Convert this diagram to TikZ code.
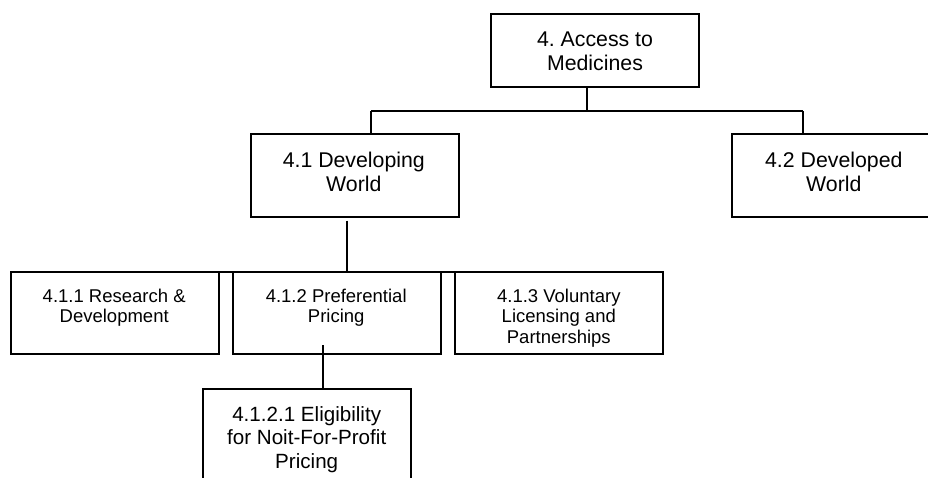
\documentclass[tikz,border=0pt]{standalone}
\usepackage{fontspec}
\setmainfont{Liberation Sans}
\frenchspacing
\begin{document}
\begin{tikzpicture}[x=1pt,y=-1pt,
  box/.style={draw, line width=1.8pt, inner sep=0pt, outer sep=0pt, anchor=north west},
  conn/.style={line width=1.8pt},
  lbl/.style={inner sep=0pt, anchor=north, align=center},
  big/.style={font=\fontsize{21.3}{24}\selectfont},
  mid/.style={font=\fontsize{20.6}{23.5}\selectfont},
  small/.style={font=\fontsize{18.5}{20.5}\selectfont}]
\useasboundingbox (0,0) rectangle (928,477);
\clip (0,0) rectangle (928,477);
% boxes
\node[box, minimum width=208pt, minimum height=72.7pt] (A) at (491,14.3) {};
\node[box, minimum width=208pt, minimum height=82.7pt] (B) at (251,134.3) {};
\node[box, minimum width=205pt, minimum height=82.4pt] (C) at (731.7,134.3) {};
\node[box, minimum width=207.7pt, minimum height=82.3pt] (D) at (11,272) {};
\node[box, minimum width=208pt, minimum height=82.3pt] (E) at (232.7,272) {};
\node[box, minimum width=207.7pt, minimum height=82.3pt] (F) at (455,272) {};
\node[box, minimum width=208pt, minimum height=100pt] (G) at (202.7,389.3) {};
% labels
\node[lbl, big] (tA) at (595,31.4) {4. Access to\\Medicines};
\node[lbl, big] (tB) at (353.8,151.6) {4.1 Developing\\World};
\node[lbl, big] (tC) at (833.8,151.6) {4.2 Developed\\World};
\node[lbl, small] (tD) at (114.2,288.5) {4.1.1 Research \&\\Development};
\node[lbl, small] (tE) at (336.2,288.5) {4.1.2 Preferential\\Pricing};
\node[lbl, small] (tF) at (558.8,288.5) {4.1.3 Voluntary\\Licensing and\\Partnerships};
\node[lbl, mid] (tG) at (306.7,406) {4.1.2.1 Eligibility\\for Noit-For-Profit\\Pricing};
% connectors
\coordinate (hA) at (587,111);
\coordinate (hL) at (371,111);
\coordinate (hR) at (803,111);
\draw[conn] (A.south -| hA) -- (hA);
\draw[conn] (hL) -- (hR);
\draw[conn] (hL) -- (hL |- B.north);
\draw[conn] (hR) -- (hR |- C.north);
\coordinate (r3) at (347,272);
\draw[conn] ([yshift=-3.5pt]B.south -| r3) -- (r3);
\draw[conn] (D.north) -- (F.north);
\coordinate (g) at (323,389.3);
\draw[conn] ([yshift=9pt]E.south -| g) -- (g);
\end{tikzpicture}
\end{document}
